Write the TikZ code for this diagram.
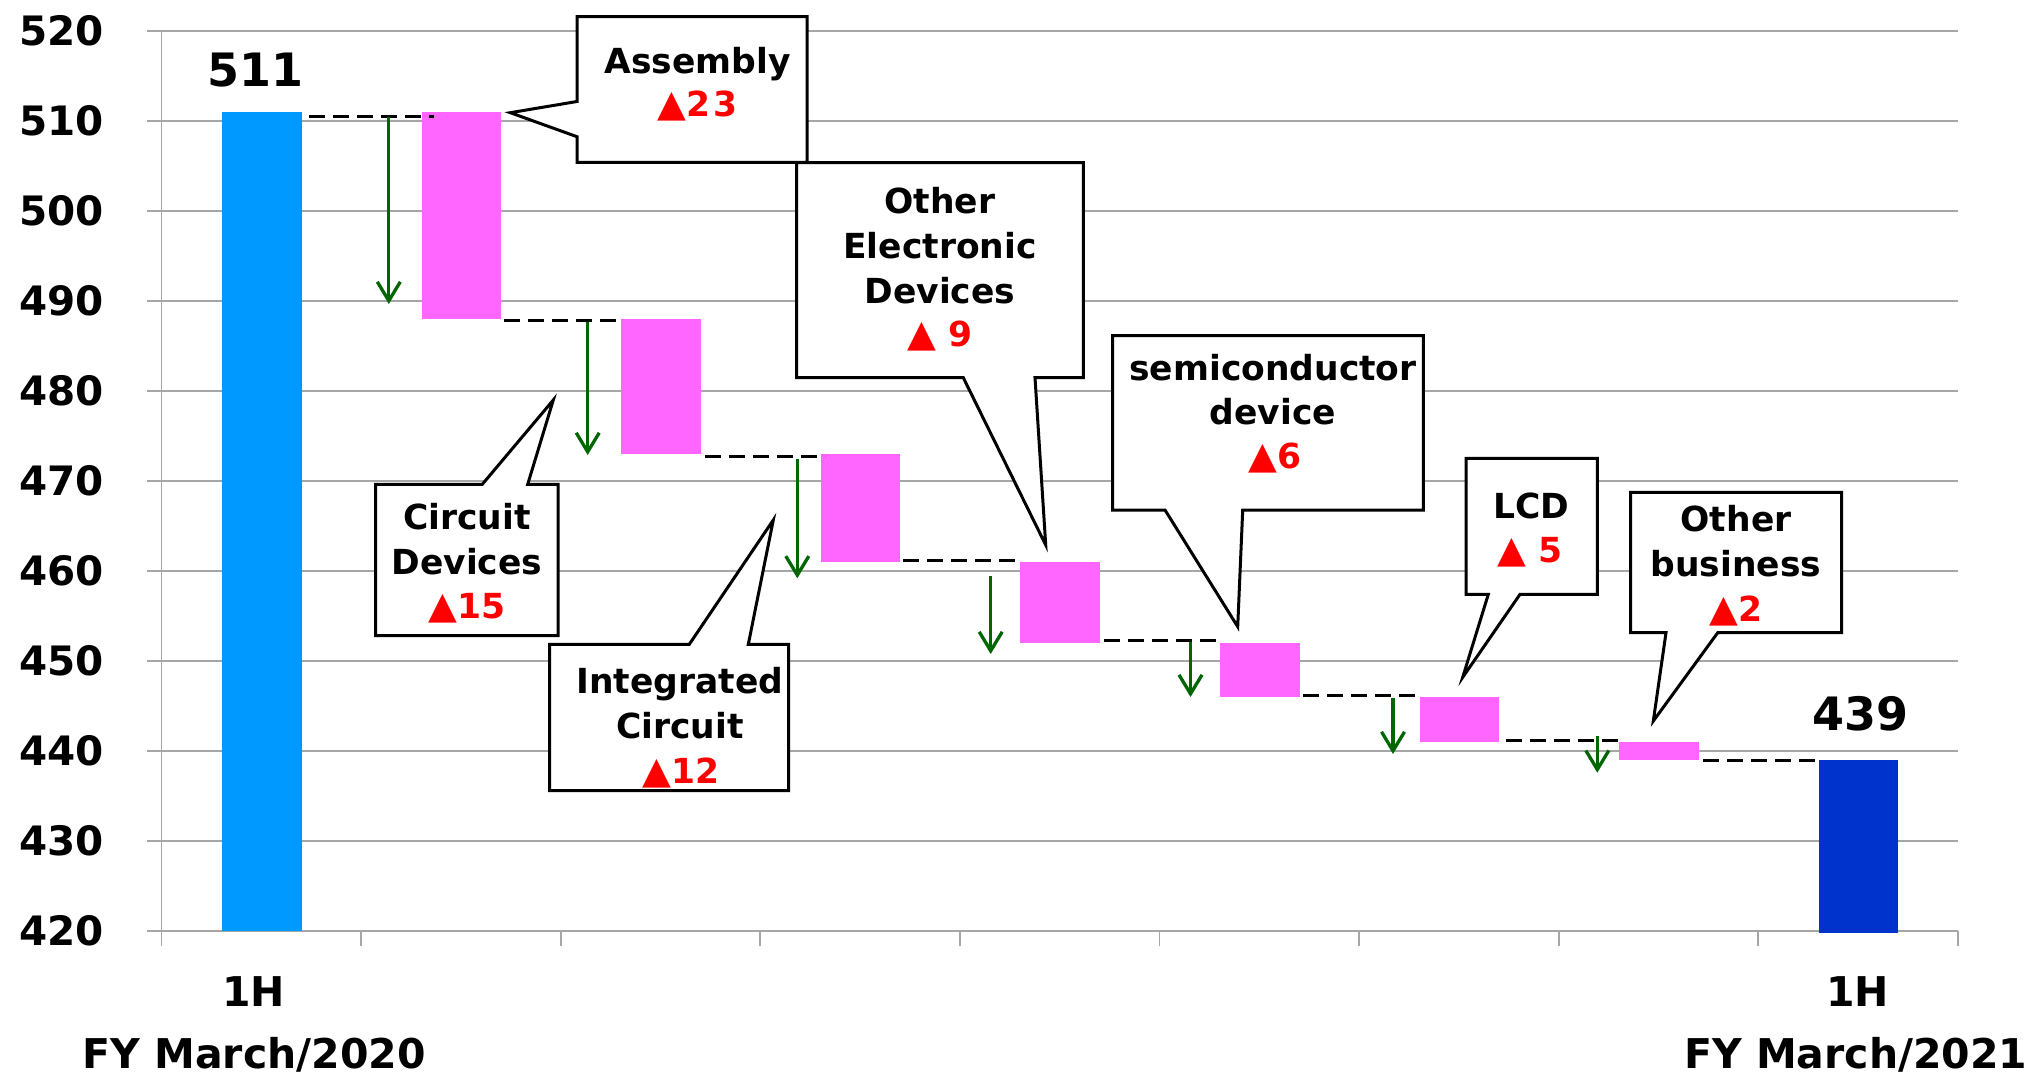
\documentclass[tikz,border=0pt]{standalone}
\usepackage{fontspec}
\setmainfont{DejaVu Sans}
\usetikzlibrary{arrows.meta}
\definecolor{gridgray}{RGB}{166,166,166}
\definecolor{startblue}{RGB}{0,153,255}
\definecolor{endblue}{RGB}{0,51,204}
\definecolor{stepink}{RGB}{255,102,255}
\definecolor{dropgreen}{RGB}{0,102,0}
\definecolor{lossred}{RGB}{255,0,0}
% decrease marker, a little larger than the digits beside it
\newcommand{\dec}{{\fontsize{37.5}{44}\selectfont ▲}}
\begin{document}
\begin{tikzpicture}[x=1pt,y=-1pt,
  every node/.style={inner sep=0pt,outer sep=0pt},
  gridl/.style={draw=gridgray,line width=1.8pt},
  ylab/.style={anchor=base east,font=\fontsize{40.5}{48}\selectfont\bfseries},
  xlab/.style={anchor=base,font=\fontsize{41}{48}\selectfont\bfseries},
  total/.style={anchor=base,font=\fontsize{46}{54}\selectfont\bfseries},
  ctext/.style={anchor=base,font=\fontsize{34.5}{44}\selectfont\bfseries},
  cred/.style={ctext,text=lossred},
  callout/.style={draw=black,fill=white,line width=3pt,line join=miter},
  lev/.style={draw=black,line width=3pt,dash pattern=on 16pt off 8pt},
  drop/.style={draw=dropgreen,line width=3.3pt,-{Straight Barb[length=19pt,width=23pt]}}]
\useasboundingbox (0,0) rectangle (2036,1076);
\fill[white] (0,0) rectangle (2036,1076);

% value axis: gridlines and labels
\foreach \v in {420,430,...,520}{
  \pgfmathsetmacro\yy{30.7+(520-\v)*9}
  \draw[gridl] (147,\yy) -- (1958,\yy);
  \node[ylab] (ylab\v) at (104,\yy+14.5) {\v};
}
\draw[gridl] (161.5,30.7) -- (161.5,946);
\foreach \k in {1,...,9}
  \draw[gridl] ({161.5+\k*199.6},930.7) -- ++(0,15.3);

% bars
\fill[startblue] (222,111.7) rectangle (301.5,930.7);
\fill[stepink] (421.6,111.7) rectangle (501.1,318.7);
\fill[stepink] (621.2,318.7) rectangle (700.7,453.7);
\fill[stepink] (820.8,453.7) rectangle (900.3,561.7);
\fill[stepink] (1020.4,561.7) rectangle (1099.9,642.7);
\fill[stepink] (1220,642.7) rectangle (1299.5,696.7);
\fill[stepink] (1419.6,696.7) rectangle (1499.1,741.7);
\fill[stepink] (1619.2,741.7) rectangle (1698.7,759.7);
\fill[endblue] (1818.8,759.7) rectangle (1898.3,933);

% level connectors
\coordinate (d1a) at (309.4,116);   \coordinate (d1b) at (434,116);
\coordinate (d2a) at (503.6,320.7); \coordinate (d2b) at (623.5,320.7);
\coordinate (d3a) at (705,456.5);   \coordinate (d3b) at (825,456.5);
\coordinate (d4a) at (903,560.7);   \coordinate (d4b) at (1022,560.7);
\coordinate (d5a) at (1104,640.5);  \coordinate (d5b) at (1223.3,640.5);
\coordinate (d6a) at (1303.3,695.7);\coordinate (d6b) at (1422,695.7);
\coordinate (d7a) at (1506,740);    \coordinate (d7b) at (1625,740);
\coordinate (d8a) at (1703,760);    \coordinate (d8b) at (1822,760);
\foreach \i in {1,...,8} \draw[lev] (d\i a) -- (d\i b);

% decrease arrows
\coordinate (a1s) at (388.8,117);  \coordinate (a1e) at (388.8,304);
\coordinate (a2s) at (587.7,322);  \coordinate (a2e) at (587.7,455);
\coordinate (a3s) at (797.3,459);  \coordinate (a3e) at (797.3,578.3);
\coordinate (a4s) at (990.7,576);  \coordinate (a4e) at (990.7,654);
\coordinate (a5s) at (1190.5,642); \coordinate (a5e) at (1190.5,697);
\coordinate (a6s) at (1393,698);   \coordinate (a6e) at (1393,754);
\coordinate (a7s) at (1597.3,736); \coordinate (a7e) at (1597.3,772.7);
\foreach \i in {1,...,7} \draw[drop] (a\i s) -- (a\i e);

% callouts
\draw[callout] (577,16.7) -- (807,16.7) -- (807,162.3) -- (577,162.3)
  -- (577,136.7) -- (510.3,112.7) -- (577,101.5) -- cycle;
\draw[callout] (375.7,484.3) -- (482.3,484.3) -- (553.3,400) -- (527.7,484.3)
  -- (558,484.3) -- (558,635.7) -- (375.7,635.7) -- cycle;
\draw[callout] (549.7,644.3) -- (689.3,644.3) -- (773.3,520) -- (748.3,644.3)
  -- (788.7,644.3) -- (788.7,790.7) -- (549.7,790.7) -- cycle;
\draw[callout] (796.7,162.7) -- (1083.3,162.7) -- (1083.3,377.7) -- (1035,377.7)
  -- (1045.7,545) -- (963.3,377.7) -- (796.7,377.7) -- cycle;
\draw[callout] (1112.7,335.7) -- (1423.3,335.7) -- (1423.3,510) -- (1242.7,510)
  -- (1237.7,626.7) -- (1165,510) -- (1112.7,510) -- cycle;
\draw[callout] (1466,458.3) -- (1597.3,458.3) -- (1597.3,594.3) -- (1520,594.3)
  -- (1462.7,677.3) -- (1488.3,594.3) -- (1466,594.3) -- cycle;
\draw[callout] (1630.7,492.3) -- (1841.7,492.3) -- (1841.7,632.7) -- (1717.7,632.7)
  -- (1653.3,721) -- (1666,632.7) -- (1630.7,632.7) -- cycle;

% callout texts
\node[ctext] (asm1) at (697.5,73.3) {Assembly};
\node[cred]  (asm2) at (697.5,116.7) {\dec 2\kern3pt3};
\node[ctext] (cd1) at (467,529) {Circuit};
\node[ctext] (cd2) at (467,574.3) {Devices};
\node[cred]  (cd3) at (467,618.3) {\dec 15};
\node[ctext] (ic1) at (680,693.3) {Integrated};
\node[ctext] (ic2) at (680,738.3) {Circuit};
\node[cred]  (ic3) at (681,783.3) {\dec 12};
\node[ctext] (oe1) at (940,213.3) {Other};
\node[ctext] (oe2) at (940,258.3) {Electronic};
\node[ctext] (oe3) at (940,303.3) {Devices};
\node[cred]  (oe4) at (940,346.7) {\dec\ 9};
\node[ctext] (sd1) at (1273,380.7) {semiconductor};
\node[ctext] (sd2) at (1273,424) {device};
\node[cred]  (sd3) at (1275,468.3) {\dec 6};
\node[ctext] (lcd1) at (1531,518.3) {LCD};
\node[cred]  (lcd2) at (1530,562.7) {\dec\ 5};
\node[ctext] (ob1) at (1736,531.7) {Other};
\node[ctext] (ob2) at (1736,576.7) {business};
\node[cred]  (ob3) at (1736,621) {\dec 2};

% totals and category labels
\node[total] (tot1) at (255.5,86.7) {511};
\node[total] (tot2) at (1860.5,730) {439};
\node[xlab] (h1) at (253.5,1006.7) {1H};
\node[xlab] (fy1) at (254,1068.3) {FY March/2020};
\node[xlab] (h2) at (1857.7,1006.7) {1H};
\node[xlab] (fy2) at (1855.8,1068.3) {FY March/2021};
\end{tikzpicture}
\end{document}
